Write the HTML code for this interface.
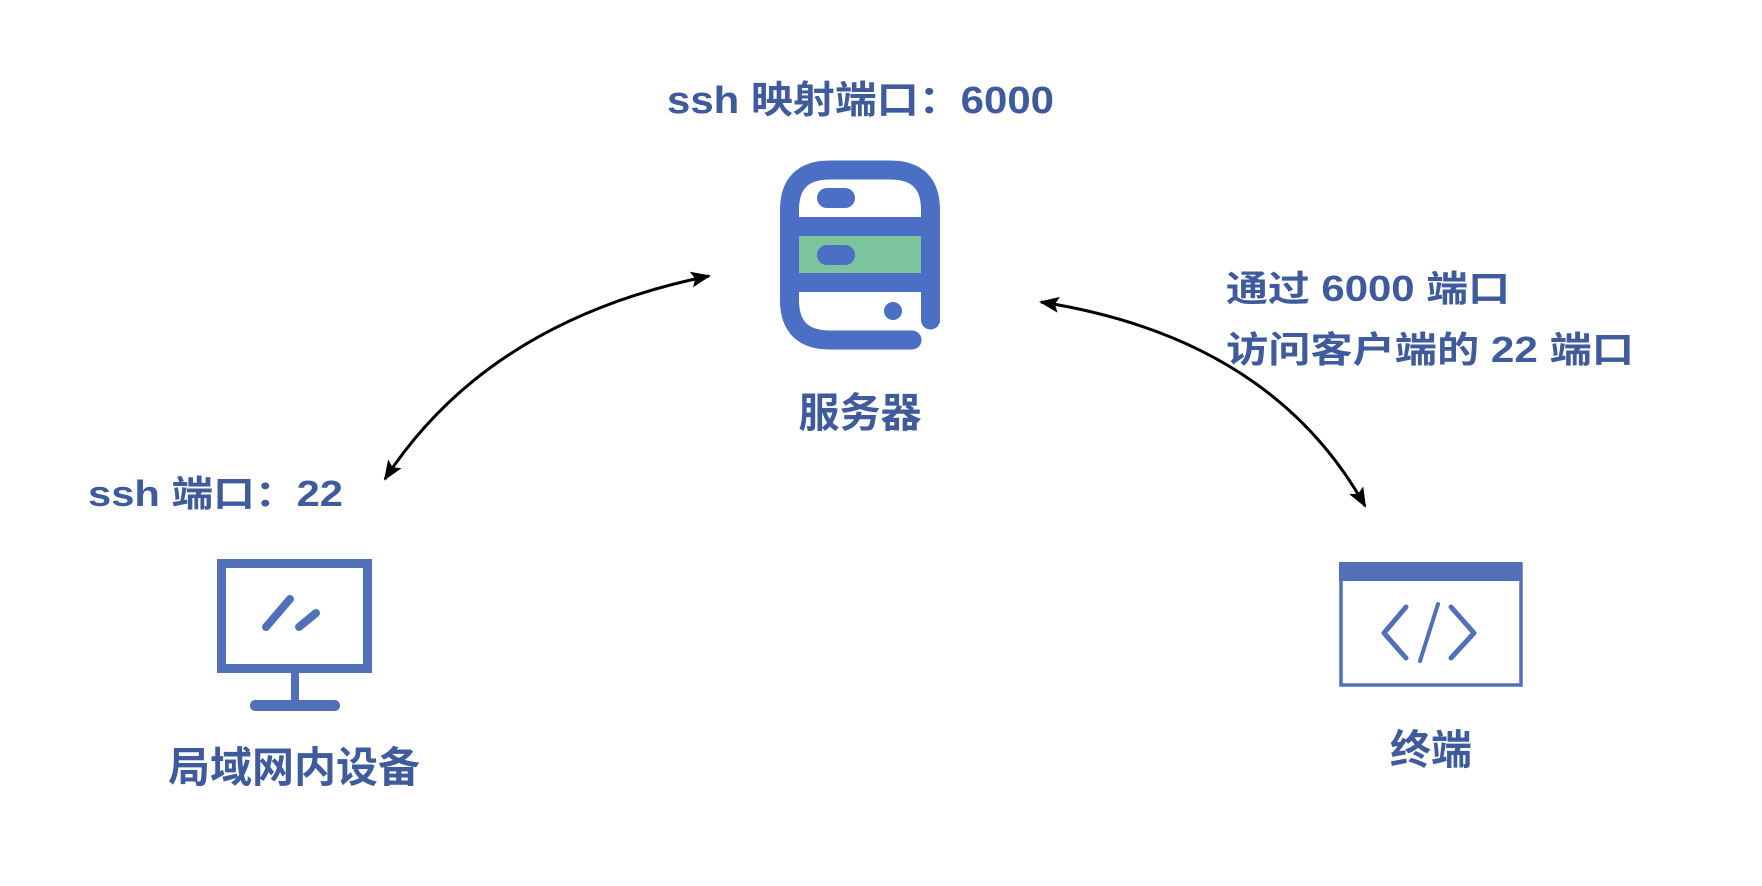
<!DOCTYPE html>
<html><head><meta charset="utf-8"><style>
html,body{margin:0;padding:0;background:#fff;}
svg{display:block;}
text{font-family:"Liberation Sans","Noto Sans CJK SC",sans-serif;font-weight:bold;fill:#3f5b9c;}
</style></head><body>
<svg width="1762" height="886" viewBox="0 0 1762 886" xmlns="http://www.w3.org/2000/svg">
<defs>
<marker id="ah" markerWidth="10" markerHeight="10" refX="8" refY="5" orient="auto-start-reverse" markerUnits="userSpaceOnUse">
<path d="M0,0 L10,5 L0,10 L2,5 z" fill="#000"/>
</marker>
<marker id="ahb" viewBox="0 0 20 16" markerWidth="20" markerHeight="16" refX="18" refY="8" orient="auto-start-reverse" markerUnits="userSpaceOnUse">
<path d="M0,0 L20,8 L0,16 L4,8 z" fill="#000"/>
</marker>
</defs>

<text x="667" y="113" font-size="38" textLength="387" lengthAdjust="spacingAndGlyphs">ssh 映射端口：6000</text>

<!-- server icon -->
<rect x="799" y="217" width="122" height="19" fill="#4a6fc4"/>
<rect x="799" y="236" width="122" height="37" fill="#7cc49c"/>
<rect x="799" y="273" width="122" height="19" fill="#4a6fc4"/>
<path d="M912,340 L830,340 Q789.5,340 789.5,300 L789.5,210 Q789.5,170 830,170 L890,170 Q930.5,170 930.5,210 L930.5,320" fill="none" stroke="#4a6fc4" stroke-width="19" stroke-linecap="round"/>
<rect x="817" y="188" width="38" height="20" rx="10" fill="#4a6fc4"/>
<rect x="817" y="245" width="38" height="20" rx="10" fill="#4a6fc4"/>
<circle cx="893" cy="311" r="9" fill="#4a6fc4"/>

<text x="860" y="427" font-size="41" text-anchor="middle">服务器</text>

<text x="1226" y="301" font-size="36" textLength="284" lengthAdjust="spacingAndGlyphs">通过 6000 端口</text>
<text x="1226" y="362" font-size="36" textLength="408" lengthAdjust="spacingAndGlyphs">访问客户端的 22 端口</text>

<text x="88" y="506" font-size="36" textLength="255" lengthAdjust="spacingAndGlyphs">ssh 端口：22</text>

<!-- arrows -->
<path d="M385,479 Q488,321 709,276" fill="none" stroke="#000" stroke-width="3" marker-start="url(#ahb)" marker-end="url(#ahb)"/>
<path d="M1041,302 Q1271,338 1365,506" fill="none" stroke="#000" stroke-width="3" marker-start="url(#ahb)" marker-end="url(#ahb)"/>

<!-- monitor -->
<rect x="221.5" y="563.5" width="146" height="105" fill="none" stroke="#5270b8" stroke-width="9"/>
<line x1="295" y1="672" x2="295" y2="705" stroke="#5270b8" stroke-width="8"/>
<rect x="250" y="700" width="90" height="11" rx="5" fill="#5270b8"/>
<line x1="266" y1="627" x2="290" y2="599" stroke="#5270b8" stroke-width="8" stroke-linecap="round"/>
<line x1="299" y1="627" x2="316" y2="613" stroke="#5270b8" stroke-width="8" stroke-linecap="round"/>

<text x="294" y="782" font-size="42" text-anchor="middle">局域网内设备</text>

<!-- terminal -->
<rect x="1341" y="564" width="180" height="121" fill="none" stroke="#5270b8" stroke-width="3.5"/>
<rect x="1339" y="562" width="183" height="19" fill="#5270b8"/>
<polyline points="1406,607 1384,633 1406,658" fill="none" stroke="#5270b8" stroke-width="5" stroke-linecap="round" stroke-linejoin="round"/>
<polyline points="1451,607 1474,633 1451,658" fill="none" stroke="#5270b8" stroke-width="5" stroke-linecap="round" stroke-linejoin="round"/>
<line x1="1438" y1="604" x2="1420" y2="661" stroke="#5270b8" stroke-width="4" stroke-linecap="round"/>

<text x="1431" y="764" font-size="41" text-anchor="middle">终端</text>
</svg>
</body></html>
